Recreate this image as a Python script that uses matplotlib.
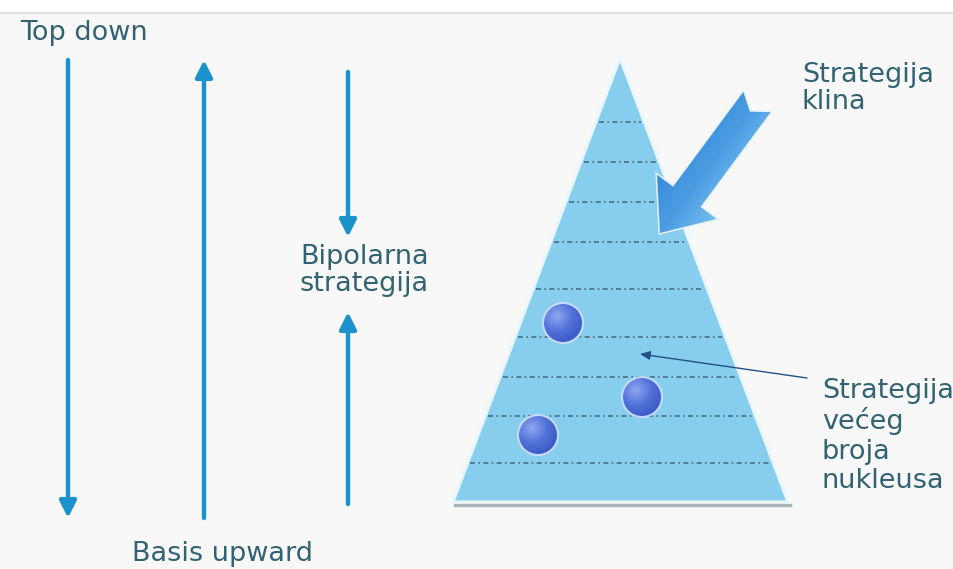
import numpy as np
import matplotlib
matplotlib.use("Agg")
import matplotlib.pyplot as plt
from matplotlib.patches import Polygon, Circle, Rectangle
from matplotlib.colors import LinearSegmentedColormap

# ---------------- content ----------------
W, H = 954, 569

# vertical strategy arrows (x, start y, end y)
arrow_x = [68, 204, 348, 348]
arrow_from = [60, 518, 72, 504]
arrow_to = [518, 60, 237, 312]

# pyramid
apex = (620, 58)
base_y = 502
base_left, base_right = 453, 788
level_y = [122, 162, 202, 242, 289, 337, 377, 416, 463]

# nuclei
ball_x = [563, 642, 538]
ball_y = [323, 397, 435]
ball_r = 20

# wedge arrow (tail -> tip)
wedge_tail = (757, 102)
wedge_tip = (660, 233)

# thin pointer
pointer_from = (807, 378)
pointer_to = (640, 354)

label_text = ["Top down", "Bipolarna\nstrategija", "Basis upward",
              "Strategija\nklina", "Strategija\nvećeg\nbroja\nnukleusa"]
label_x = [20, 300, 132, 802, 822]
label_y = [33, 270, 554, 88, 436]
label_spacing = [1.0, 1.05, 1.0, 1.05, 1.17]

# ---------------- styles ----------------
ARROW_C = "#1b92cb"
TEXT_C = "#336270"
PYR_C = "#86cdee"

fig = plt.figure(figsize=(W / 100, H / 100), dpi=100)
fig.patch.set_facecolor("white")
ax = fig.add_axes([0, 0, 1, 1])
ax.set_xlim(0, W)
ax.set_ylim(H, 0)
ax.axis("off")

# background
ax.add_patch(Rectangle((0, 13), W, H - 13, facecolor="#f8f8f8", edgecolor="none", zorder=0))
ax.plot([0, W], [13, 13], color="#dedede", lw=1.2, zorder=1)

# vertical arrows
for x, y0, y1 in zip(arrow_x, arrow_from, arrow_to):
    ax.annotate("", xy=(x, y1), xytext=(x, y0),
                arrowprops=dict(arrowstyle="-|>,head_length=0.5,head_width=0.25",
                                mutation_scale=20, color=ARROW_C, lw=3.2,
                                shrinkA=0, shrinkB=0), zorder=3)

# pyramid
ax.plot([base_left + 2, base_right + 2], [base_y + 3, base_y + 3], color="#a9b4bb", lw=2.5, zorder=2)
pyr = Polygon([apex, (base_right, base_y), (base_left, base_y)], closed=True,
              facecolor=PYR_C, edgecolor="#e9f7fd", lw=2.2, zorder=3)
ax.add_patch(pyr)
half = (base_right - base_left) / 2
for y in level_y:
    hw = (y - apex[1]) / (base_y - apex[1]) * half - 3
    ax.plot([apex[0] - hw, apex[0] + hw], [y, y], color="#3d5a72", lw=1.2,
            ls=(0, (3, 2, 1, 2)), alpha=0.85, zorder=4)

# nuclei with radial gradient
ball_cmap = LinearSegmentedColormap.from_list("ball", ["#8ea6f0", "#5070d8", "#3552bd"])
n = 80
for cx, cy in zip(ball_x, ball_y):
    xs = np.linspace(cx - ball_r, cx + ball_r, n)
    ys = np.linspace(cy - ball_r, cy + ball_r, n)
    XX, YY = np.meshgrid(xs, ys)
    d = np.hypot(XX - (cx - 6), YY - (cy - 7)) / (1.6 * ball_r)
    im = ax.imshow(np.clip(d, 0, 1), cmap=ball_cmap, vmin=0, vmax=1,
                   extent=(cx - ball_r, cx + ball_r, cy + ball_r, cy - ball_r),
                   origin="upper", aspect="auto", zorder=5, interpolation="bilinear")
    clip = Circle((cx, cy), ball_r, transform=ax.transData)
    im.set_clip_path(clip)
    ax.add_patch(Circle((cx, cy), ball_r, facecolor="none", edgecolor="#cfe2f7",
                        lw=1.5, alpha=0.9, zorder=6))

# wedge arrow
tx, ty = wedge_tail
px, py = wedge_tip
L = np.hypot(px - tx, py - ty)
u = np.array([(px - tx) / L, (py - ty) / L])
p = np.array([u[1], -u[0]])
shaft_w, head_w, head_len, notch = 34, 74, 45, 12
tip = np.array(wedge_tip, float)
tail = np.array(wedge_tail, float)
hb = tip - head_len * u
verts = [
    tail + shaft_w / 2 * p,
    hb + shaft_w / 2 * p,
    hb + head_w / 2 * p,
    tip,
    hb - head_w / 2 * p,
    hb - shaft_w / 2 * p,
    tail - shaft_w / 2 * p,
    tail + notch * u,
]
wedge = Polygon(verts, closed=True, facecolor="none", edgecolor="#e6f3fc", lw=2.2, zorder=7)
ax.add_patch(wedge)
wcmap = LinearSegmentedColormap.from_list("wedge", ["#3a8cda", "#4a9ce2", "#74bdf0"])
xs = np.linspace(630, 780, 150)
ys = np.linspace(80, 245, 165)
XX, YY = np.meshgrid(xs, ys)
t = ((XX - tip[0]) * p[0] + (YY - tip[1]) * p[1] + head_w / 2) / head_w
im = ax.imshow(np.clip(t, 0, 1), cmap=wcmap, vmin=0, vmax=1,
               extent=(630, 780, 245, 80), origin="upper", aspect="auto",
               zorder=8, interpolation="bilinear")
im.set_clip_path(Polygon(verts, closed=True, transform=ax.transData))

# thin pointer
ax.annotate("", xy=pointer_to, xytext=pointer_from,
            arrowprops=dict(arrowstyle="-|>,head_length=0.5,head_width=0.22",
                            mutation_scale=12, color="#244f86", lw=1.0,
                            shrinkA=0, shrinkB=0), zorder=9)

# labels
for txt, x, y, ls in zip(label_text, label_x, label_y, label_spacing):
    ax.text(x, y, txt, fontsize=19.5, color=TEXT_C, ha="left", va="center",
            family="DejaVu Sans", linespacing=ls, zorder=10)

ax.set_xlim(0, W)
ax.set_ylim(H, 0)
fig.savefig("out.png", dpi=100, facecolor=fig.get_facecolor())
